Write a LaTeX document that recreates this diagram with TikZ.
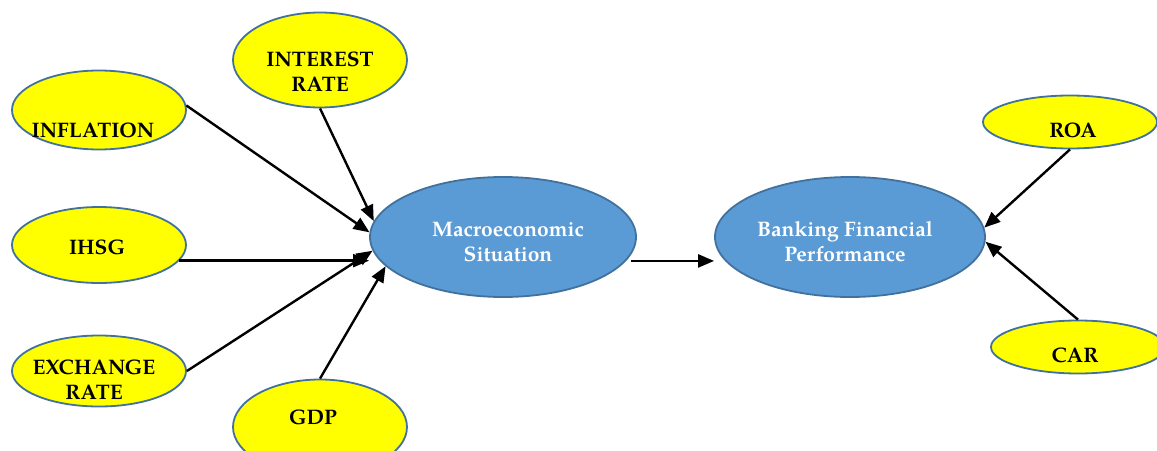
\documentclass[tikz,border=0pt]{standalone}
\usepackage{fontspec}
\setmainfont{TeX Gyre Pagella}
\usetikzlibrary{shapes.geometric,arrows.meta}
\definecolor{yel}{HTML}{FFFF00}
\definecolor{blu}{HTML}{5B9BD5}
\definecolor{edge}{HTML}{41719C}
\tikzset{
  yell/.style={ellipse, draw=edge, line width=1.8pt, fill=yel, inner sep=0pt},
  bluel/.style={ellipse, draw=edge, line width=1.8pt, fill=blu, inner sep=0pt},
  lbl/.style={align=center, inner sep=0pt, font=\bfseries\fontsize{21}{25}\selectfont},
  wlbl/.style={lbl, text=white},
  conn/.style={line width=2.4pt, -{Triangle[length=16pt,width=13pt]}}
}
\begin{document}
\begin{tikzpicture}[x=1pt,y=-1pt]
\useasboundingbox (0,0) rectangle (1157,450);
% ellipses
\node[yell, minimum width=174pt, minimum height=95pt] (int) at (320,60) {};
\node[yell, minimum width=174pt, minimum height=79pt] (inf) at (99,110) {};
\node[yell, minimum width=174pt, minimum height=76pt] (ihsg) at (99,245) {};
\node[yell, minimum width=174pt, minimum height=71pt] (exch) at (99,371) {};
\node[yell, minimum width=174pt, minimum height=95pt] (gdp) at (320,427) {};
\node[bluel, minimum width=266pt, minimum height=120pt] (macro) at (503,237) {};
\node[bluel, minimum width=270pt, minimum height=120pt] (bank) at (850,237) {};
\node[yell, minimum width=174pt, minimum height=53pt] (roa) at (1070,122) {};
\node[yell, minimum width=174pt, minimum height=53pt] (car) at (1078,347) {};
% labels
\node[lbl] (tint) at (320,72) {INTEREST\\RATE};
\node[lbl] (tinf) at (93,130) {INFLATION};
\node[lbl] (tihsg) at (97,247) {IHSG};
\node[lbl] (texch) at (94,380) {EXCHANGE\\RATE};
\node[lbl] (tgdp) at (313,417) {GDP};
\node[wlbl] (tmacro) at (508,242) {Macroeconomic\\Situation};
\node[wlbl] (tbank) at (845,242) {Banking Financial\\Performance};
\node[lbl] (troa) at (1073,130) {ROA};
\node[lbl] (tcar) at (1075,355) {CAR};
% connectors
\draw[conn] (inf.3) -- (macro.178);
\draw[conn] (int.south) -- (macro.173);
\draw[conn] (ihsg.-11) -- (ihsg.-11 -| macro.west);
\draw[conn] (exch.east) -- (macro.186);
\draw[conn] (gdp.north) -- (macro.194);
\draw[conn, shorten <=5pt] (macro.-11) -- (macro.-11 -| bank.west);
\draw[conn] (roa.south) -- (bank.4);
\draw[conn] (car.north) -- (bank.-2);
\end{tikzpicture}
\end{document}
